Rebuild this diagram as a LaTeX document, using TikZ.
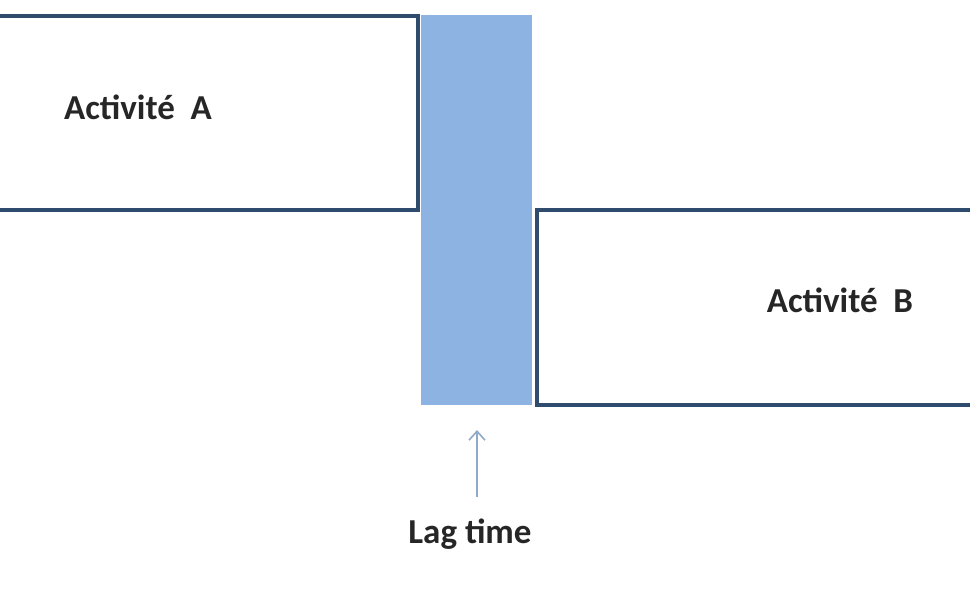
\documentclass[tikz,border=0pt]{standalone}
\usepackage{fontspec}
\setmainfont{Carlito}
\usetikzlibrary{arrows.meta}
\definecolor{edge}{HTML}{2F4B6E}
\definecolor{lag}{HTML}{8DB3E2}
\definecolor{arr}{HTML}{8FAAC9}
\begin{document}
\begin{tikzpicture}[x=1pt,y=-1pt,
  box/.style={draw=edge,line width=3.4pt},
  lbl/.style={font=\bfseries\fontsize{35}{40}\selectfont,text=black!85}]
\useasboundingbox (0,0) rectangle (970,608);
\begin{scope}
\clip (0,0) rectangle (970,608);
\draw[box] (-10,16) -- (418,16) -- (418,210) -- (-10,210);
\fill[lag] (421,15) rectangle (532,405);
\draw[box] (980,210) -- (537,210) -- (537,405) -- (980,405);
\end{scope}
\node[lbl] (a) at (138,107) {Activité\ \ A};
\node[lbl] (b) at (840,300) {Activité\ \ B};
\node[lbl] (lt) at (470,534) {Lag time};
\coordinate (top) at (477,430);
\coordinate (bot) at (477,497);
\draw[arr,line width=1.6pt,-{Straight Barb[length=9pt,width=16pt]}] (bot) -- (top);
\end{tikzpicture}
\end{document}
